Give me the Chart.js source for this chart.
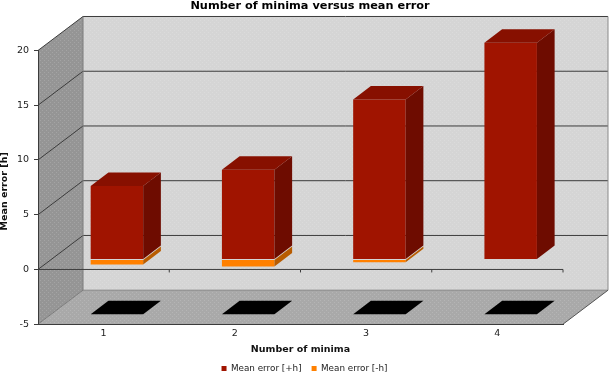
<!DOCTYPE html>
<html><head><meta charset="utf-8">
<style>html,body{margin:0;padding:0;background:#fff}canvas{display:block}</style>
<script src="https://cdn.jsdelivr.net/npm/chart.js@4"></script></head>
<body><div style="width:609px;height:375px"><canvas id="c" width="609" height="375"></canvas></div>
<script>
const categories = ['1','2','3','4'];
const positiveError = [6.7, 8.2, 14.6, 19.8];
const negativeError = [-0.45, -0.65, -0.25, 0];
const seriesNames = ['Mean error [+h]','Mean error [-h]'];
const yAxisTitle = 'Mean error [h]';
const FONT = '"DejaVu Sans"';
const wall = {dx:45, dy:-34};
const barShift = {dx:13.3, dy:-10};
const barDepth = {dx:17.7, dy:-13.5};
function poly(ctx, pts, fill, stroke){
  ctx.beginPath();
  pts.forEach((p,i)=> i?ctx.lineTo(p[0],p[1]):ctx.moveTo(p[0],p[1]));
  ctx.closePath();
  if(fill){ctx.fillStyle=fill;ctx.fill();}
  if(stroke){ctx.strokeStyle=stroke;ctx.lineWidth=1;ctx.stroke();}
}
function line(ctx,x1,y1,x2,y2,c,w){
  ctx.beginPath();ctx.moveTo(x1,y1);ctx.lineTo(x2,y2);ctx.strokeStyle=c;ctx.lineWidth=w||1;ctx.stroke();
}
function dotPattern(ctx){
  const p=document.createElement('canvas');p.width=4;p.height=4;
  const g=p.getContext('2d');g.fillStyle='rgba(255,255,255,0.14)';
  g.fillRect(0,0,1,1);g.fillRect(2,2,1,1);
  return ctx.createPattern(p,'repeat');
}
const box3d = {
  id:'box3d',
  afterLayout(chart){
    chart.titleBlock.left += 5.5; chart.titleBlock.right += 5.5;
  },
  beforeDraw(chart){
    const {ctx,chartArea:a,scales:{x,y}} = chart;
    const L=a.left,R=a.right,T=a.top,B=a.bottom,dx=wall.dx,dy=wall.dy;
    ctx.save();
    const back=[[L+dx,T+dy],[R+dx,T+dy],[R+dx,B+dy],[L+dx,B+dy]];
    const side=[[L,T],[L+dx,T+dy],[L+dx,B+dy],[L,B]];
    const floor=[[L,B],[L+dx,B+dy],[R+dx,B+dy],[R,B]];
    poly(ctx,back,'#d5d5d5');
    poly(ctx,side,'#959595');
    poly(ctx,floor,'#a9a9a9');
    const pat=dotPattern(ctx);
    [back,side,floor].forEach(f=>poly(ctx,f,pat));
    y.ticks.forEach(t=>{
      const py=y.getPixelForValue(t.value);
      if(t.value===y.min) return;
      line(ctx,L,py,L+dx,py+dy,'#3c3c3c');
      line(ctx,L+dx,py+dy,R+dx,py+dy,'#3c3c3c');
    });
    line(ctx,L,B,L+dx,B+dy,'#7a7a7a');
    line(ctx,L+dx,B+dy,R+dx,B+dy,'#858585');
    line(ctx,L+dx,T+dy,L+dx,B+dy,'#7a7a7a');
    line(ctx,R+dx,T+dy,R+dx,B+dy,'#8a8a8a');
    line(ctx,R,B,R+dx,B+dy,'#555');
    const z=y.getPixelForValue(0);
    line(ctx,L,z,R,z,'#3c3c3c');
    categories.forEach((c,i)=>{
      const tx=(x.getPixelForTick(i)+(i<categories.length-1?x.getPixelForTick(i+1):x.getPixelForTick(i)+x.getPixelForTick(1)-x.getPixelForTick(0)))/2;
      line(ctx,tx,z,tx,z+3,'#3c3c3c');
    });
    ctx.restore();
  },
  beforeDatasetsDraw(chart){
    const {ctx,scales:{y}} = chart;
    ctx.save();
    ctx.translate(barShift.dx,barShift.dy);
    const fl=y.getPixelForValue(y.min);
    chart.getDatasetMeta(0).data.forEach(b=>{
      const l=b.x-b.width/2,r=b.x+b.width/2;
      poly(ctx,[[l,fl],[r,fl],[r+barDepth.dx,fl+barDepth.dy],[l+barDepth.dx,fl+barDepth.dy]],'#000');
    });
  },
  afterDatasetsDraw(chart){
    const {ctx} = chart;
    const dx=barDepth.dx,dy=barDepth.dy;
    const sides=['#6e0c00','#b85c00'];
    [0,1].forEach(k=>{
      chart.getDatasetMeta(k).data.forEach(b=>{
        if(Math.abs(b.y-b.base)<0.01) return;
        const r=b.x+b.width/2,l=b.x-b.width/2;
        poly(ctx,[[r,b.y],[r+dx,b.y+dy],[r+dx,b.base+dy],[r,b.base]],sides[k]);
        if(k===0) poly(ctx,[[l,b.y],[r,b.y],[r+dx,b.y+dy],[l+dx,b.y+dy]],'#871000');
      });
    });
    ctx.restore();
  },
  afterDraw(chart){
    const {ctx,chartArea:a} = chart;
    ctx.save();
    ctx.translate(5,(a.top+a.bottom)/2+4);
    ctx.rotate(-Math.PI/2);
    ctx.font='bold 9.5px '+FONT;
    ctx.fillStyle='#111';
    ctx.textAlign='center';
    ctx.textBaseline='middle';
    ctx.fillText(yAxisTitle,0,0);
    ctx.restore();
  }
};
new Chart(document.getElementById('c'),{
  type:'bar',
  data:{labels:categories,datasets:[
    {label:seriesNames[0],data:positiveError,backgroundColor:'#a01400',borderWidth:0},
    {label:seriesNames[1],data:negativeError,backgroundColor:'#ff8000',borderWidth:0}
  ]},
  plugins:[box3d],
  options:{
    responsive:false,animation:false,
    layout:{padding:{left:0,right:0,top:0,bottom:-8}},
    datasets:{bar:{barPercentage:0.4,categoryPercentage:1,clip:false}},
    scales:{
      x:{stacked:true,
        afterFit(s){s.height=30;},
        grid:{drawOnChartArea:false,drawTicks:false},
        border:{color:'#3c3c3c'},
        ticks:{padding:4,maxRotation:0,color:'#222',font:{family:FONT,size:9.5}},
        title:{display:true,text:'Number of minima',color:'#111',padding:{top:0,bottom:-1.2},font:{family:FONT,size:9.5,weight:'bold'}}},
      y:{stacked:true,min:-5,max:20,
        afterFit(s){s.width=38;},
        grid:{drawOnChartArea:false,drawTicks:true,tickLength:4,color:'#3c3c3c'},
        border:{color:'#3c3c3c'},
        ticks:{stepSize:5,padding:5,color:'#222',font:{family:FONT,size:9.5}}},
      spacer:{axis:'y',position:'right',min:-5,max:20,
        afterFit(s){s.width=46;},
        grid:{display:false},border:{display:false},ticks:{display:false}}
    },
    plugins:{
      tooltip:{enabled:false},
      title:{display:true,text:'Number of minima versus mean error',color:'#000',padding:{top:0,bottom:37.5},font:{family:FONT,size:11.3,weight:'bold',lineHeight:1.15}},
      legend:{position:'bottom',labels:{boxWidth:5,boxHeight:5,padding:10,color:'#222',font:{family:FONT,size:8.8}}}
    }
  }
});
</script></body></html>
